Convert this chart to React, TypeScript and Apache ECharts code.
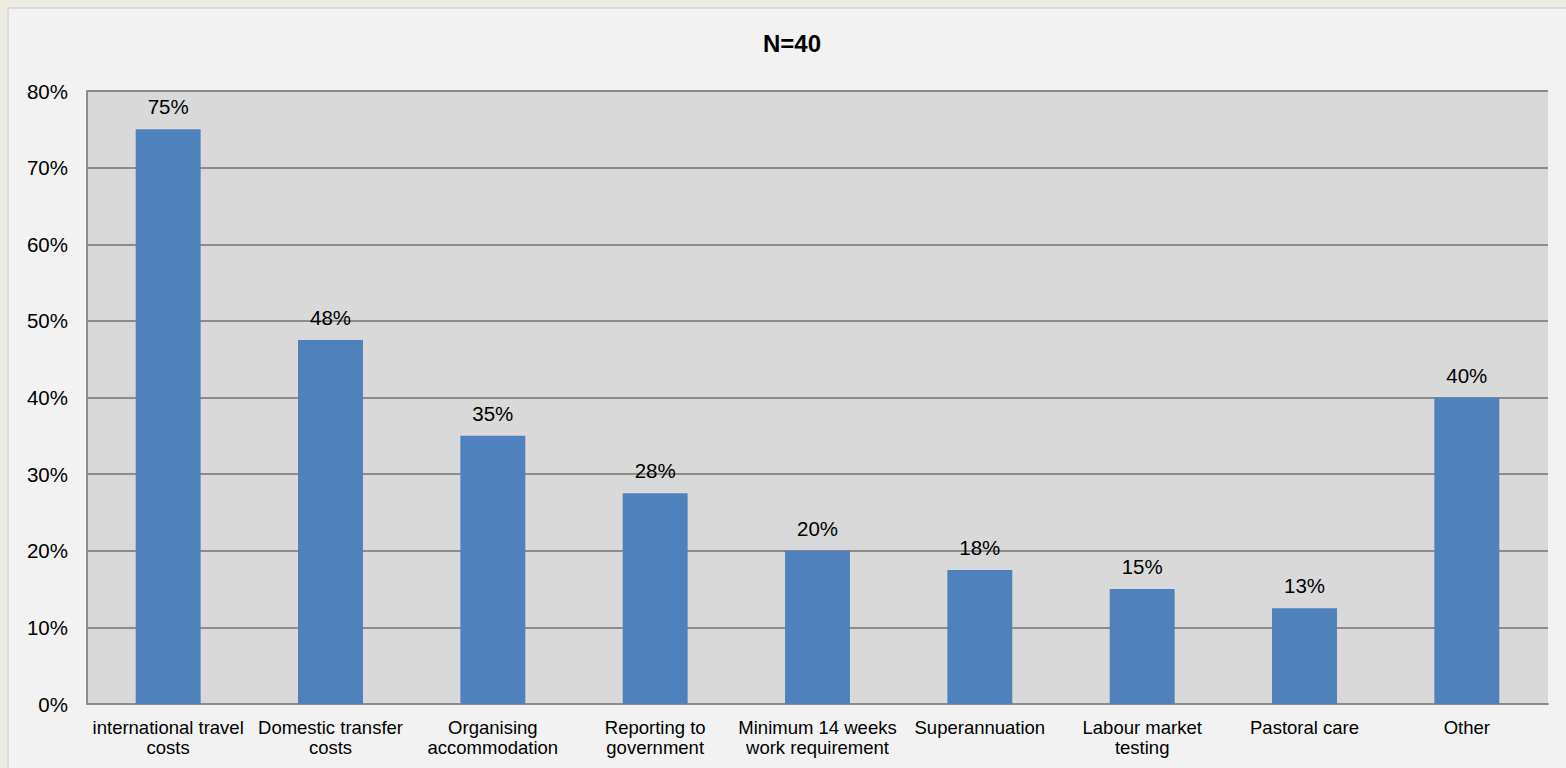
import React, { useEffect, useRef } from "react";
import * as echarts from "echarts";

const categories = [
  "international travel\ncosts",
  "Domestic transfer\ncosts",
  "Organising\naccommodation",
  "Reporting to\ngovernment",
  "Minimum 14 weeks\nwork requirement",
  "Superannuation",
  "Labour market\ntesting",
  "Pastoral care",
  "Other",
];
const values = [75, 47.5, 35, 27.5, 20, 17.5, 15, 12.5, 40];
const titleText = "N=40";

const FONT = "'Liberation Sans', Arial, sans-serif";

export default function App() {
  const ref = useRef<HTMLDivElement>(null);
  useEffect(() => {
    if (!ref.current) return;
    const chart = echarts.init(ref.current, undefined, { renderer: "svg" });
    chart.setOption({
      animation: false,
      textStyle: { fontFamily: FONT },
      title: {
        text: titleText,
        left: 792,
        top: 31,
        padding: 0,
        textAlign: "center",
        textStyle: { fontFamily: FONT, fontSize: 24, fontWeight: "bold", color: "#000" },
      },
      grid: { left: 87, right: 18, top: 91, bottom: 64, show: true, backgroundColor: "#d9d9d9", borderWidth: 0 },
      xAxis: {
        type: "category",
        data: categories,
        axisLine: { show: true, lineStyle: { color: "#8c8c8c", width: 2 } },
        axisTick: { show: false },
        axisLabel: { interval: 0, fontFamily: FONT, fontSize: 18.5, lineHeight: 20, color: "#000", margin: 13 },
      },
      yAxis: {
        type: "value",
        min: 0,
        max: 80,
        interval: 10,
        axisLine: { show: true, lineStyle: { color: "#8c8c8c", width: 2 } },
        axisTick: { show: false },
        splitLine: { show: true, lineStyle: { color: "#8c8c8c", width: 2 } },
        axisLabel: { formatter: "{value}%", fontFamily: FONT, fontSize: 20.5, color: "#000", margin: 19 },
      },
      series: [
        {
          type: "bar",
          data: values,
          barWidth: "40%",
          itemStyle: { color: "#4f81bd" },
          label: {
            show: true,
            position: "top",
            distance: 12,
            fontFamily: FONT,
            fontSize: 20.5,
            color: "#000",
            formatter: (p: any) => Math.round(p.value) + "%",
          },
        },
      ],
    });
    return () => chart.dispose();
  }, []);
  return (
    <div style={{ position: "fixed", left: 0, top: 0, width: 1566, height: 768, background: "#eeebe0" }}>
      <div
        style={{
          position: "absolute",
          left: 7,
          top: 7,
          right: 0,
          bottom: 0,
          background: "#f2f2f2",
          borderTop: "2px solid #dadada",
          borderLeft: "2px solid #dadada",
        }}
      />
      <div ref={ref} style={{ position: "absolute", left: 0, top: 0, width: 1566, height: 768 }} />
    </div>
  );
}
